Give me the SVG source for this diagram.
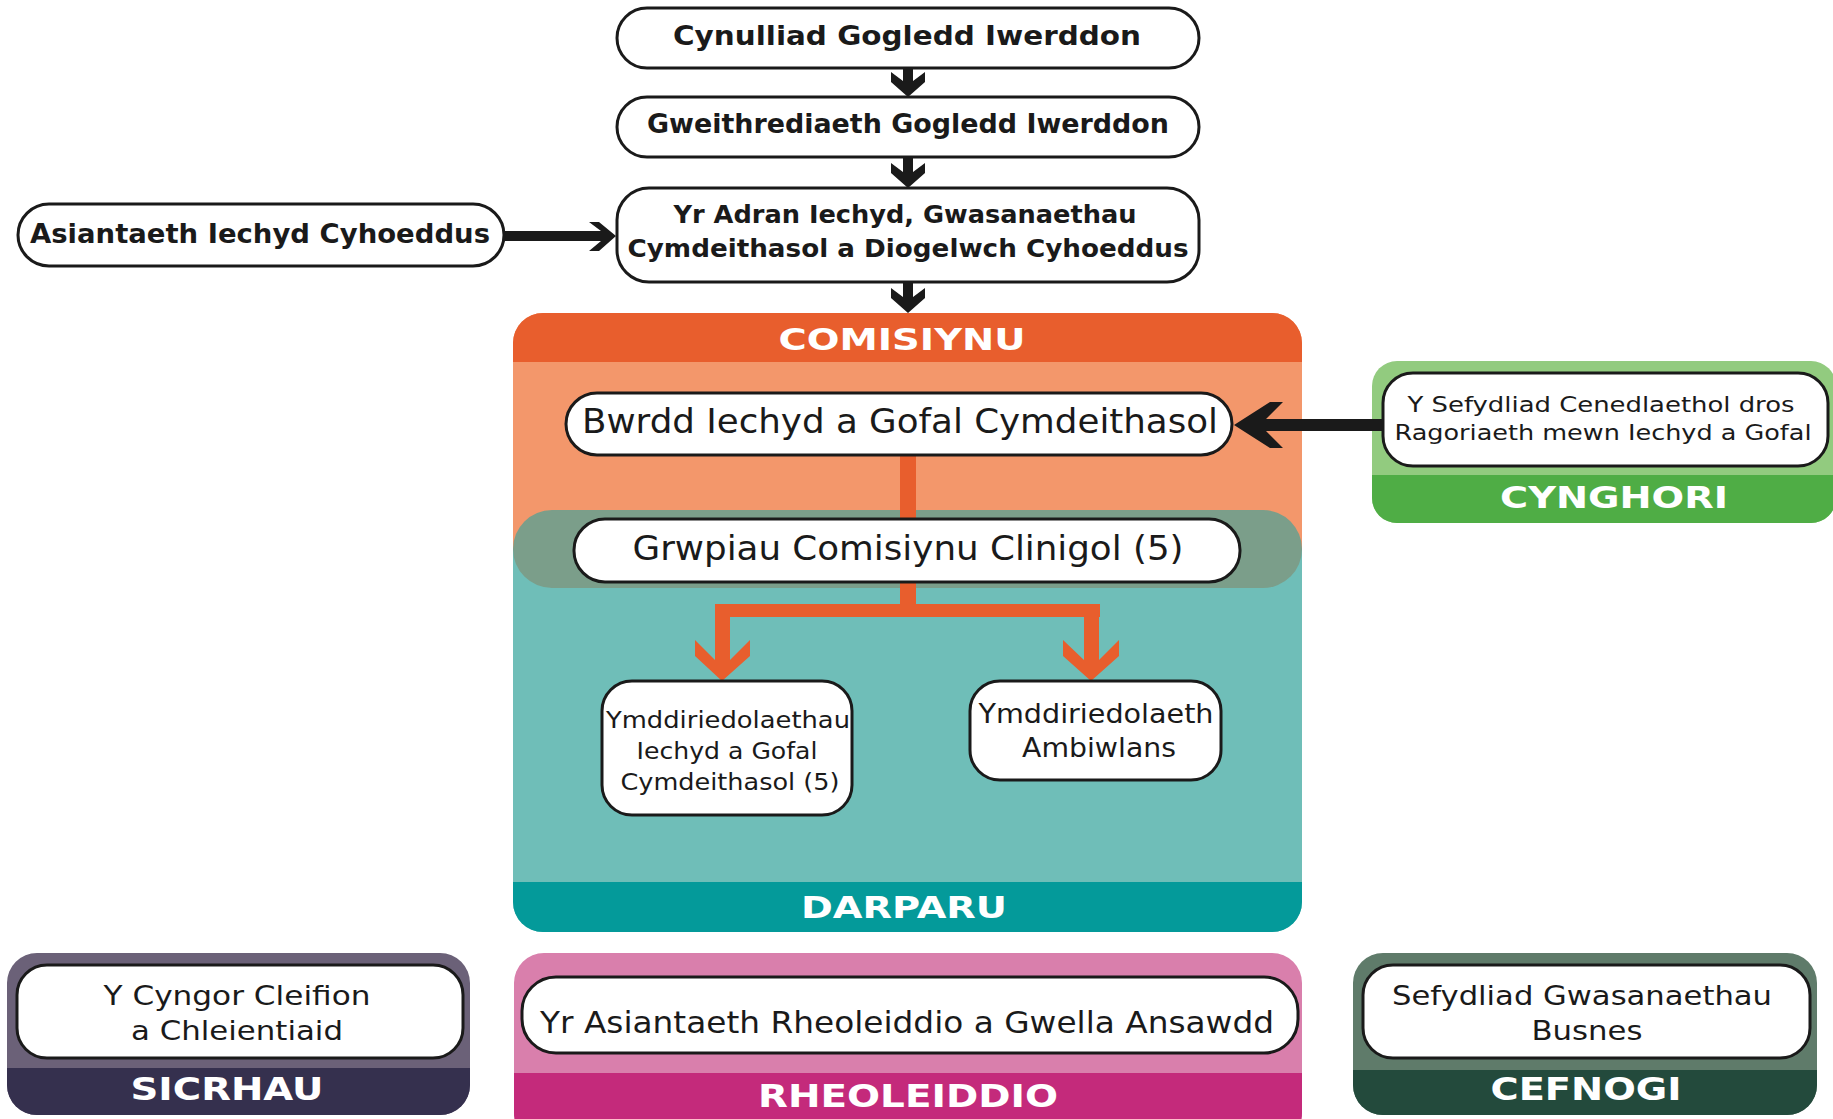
<svg xmlns="http://www.w3.org/2000/svg" width="1833" height="1119" viewBox="0 0 1833 1119">
<defs>
<style>
.box{fill:#fff;stroke:#1a1a1a;stroke-width:3}
.b{font-family:"DejaVu Sans","Liberation Sans",sans-serif;font-weight:700;fill:#1a1a1a;text-anchor:middle}
.r{font-family:"DejaVu Sans","Liberation Sans",sans-serif;font-weight:400;fill:#1a1a1a;text-anchor:middle}
.h{font-family:"DejaVu Sans","Liberation Sans",sans-serif;font-weight:700;fill:#fff;text-anchor:middle}
.blk{fill:#1a1a1a}
.org{fill:#e85e2d}
</style>
<clipPath id="cpMain"><rect x="513" y="313" width="789" height="619" rx="30"/></clipPath>
<clipPath id="cpGreen"><rect x="1372" y="361" width="464" height="162" rx="25"/></clipPath>
<clipPath id="cpSic"><rect x="7" y="953" width="463" height="162" rx="30"/></clipPath>
<clipPath id="cpRhe"><rect x="514" y="953" width="788" height="190" rx="30"/></clipPath>
<clipPath id="cpCef"><rect x="1353" y="953" width="464" height="162" rx="30"/></clipPath>
</defs>
<rect x="0" y="0" width="1833" height="1119" fill="#fff"/>

<g id="panel-comisiynu">
<g clip-path="url(#cpMain)">
<rect x="513" y="313" width="789" height="240" fill="#f3976b"/>
<rect x="513" y="549" width="789" height="383" fill="#6fbeb8"/>
<rect x="513" y="313" width="789" height="49" fill="#e85e2d"/>
<rect x="513" y="882" width="789" height="50" fill="#049a9a"/>
<rect x="513" y="510" width="789" height="78" rx="39" fill="#7b9e8a"/>
</g>
<text class="h" x="902" y="350" font-size="31" textLength="247" lengthAdjust="spacingAndGlyphs">COMISIYNU</text>
<text class="h" x="904" y="918" font-size="31" textLength="206" lengthAdjust="spacingAndGlyphs">DARPARU</text>
</g>

<g id="panel-cynghori">
<g clip-path="url(#cpGreen)">
<rect x="1372" y="361" width="464" height="162" fill="#92cb7f"/>
<rect x="1372" y="475" width="464" height="48" fill="#4fad45"/>
</g>
<text class="h" x="1614" y="508" font-size="31" textLength="228" lengthAdjust="spacingAndGlyphs">CYNGHORI</text>
</g>

<g id="panel-sicrhau">
<g clip-path="url(#cpSic)">
<rect x="7" y="953" width="463" height="162" fill="#6b6178"/>
<rect x="7" y="1068" width="463" height="47" fill="#35304e"/>
</g>
<text class="h" x="227" y="1100" font-size="32" textLength="193" lengthAdjust="spacingAndGlyphs">SICRHAU</text>
</g>

<g id="panel-rheoleiddio">
<g clip-path="url(#cpRhe)">
<rect x="514" y="953" width="788" height="190" fill="#d97fac"/>
<rect x="514" y="1073" width="788" height="70" fill="#c42a7b"/>
</g>
<text class="h" x="908" y="1107" font-size="32" textLength="300" lengthAdjust="spacingAndGlyphs">RHEOLEIDDIO</text>
</g>

<g id="panel-cefnogi">
<g clip-path="url(#cpCef)">
<rect x="1353" y="953" width="464" height="162" fill="#5f7b6a"/>
<rect x="1353" y="1070" width="464" height="45" fill="#234a3c"/>
</g>
<text class="h" x="1586" y="1100" font-size="32" textLength="191" lengthAdjust="spacingAndGlyphs">CEFNOGI</text>
</g>

<g id="connectors">
<path class="blk" d="M903,68 H913 V81 L925,72 V82 L908,97 L891,82 V72 L903,81 Z"/>
<path class="blk" d="M903,157 H913 V172 L925,163 V173 L908,188 L891,173 V163 L903,172 Z"/>
<path class="blk" d="M903,282 H913 V297 L925,288 V298 L908,313 L891,298 V288 L903,297 Z"/>
<path class="blk" d="M504,231 H601 L589,222 H599 L616,236 L599,251 H589 L601,241 H504 Z"/>
<path class="blk" d="M1383,419 H1266 L1283,402 H1270 L1234,425 L1270,448 H1283 L1266,431 H1383 Z"/>
<rect class="org" x="900" y="454" width="16" height="66"/>
<rect class="org" x="900" y="582" width="16" height="30"/>
<rect class="org" x="715" y="604" width="385" height="13"/>
<path class="org" d="M715,604 H730 V660 L750,640 V656 L722,681 L695,656 V640 L715,660 Z"/>
<path class="org" d="M1084,604 H1099 V660 L1119,640 V656 L1091,681 L1063,656 V640 L1084,660 Z"/>
</g>

<g id="node-cynulliad">
<rect class="box" x="617" y="8" width="582" height="60" rx="30"/>
<text class="b" x="907" y="45" font-size="26" textLength="468" lengthAdjust="spacingAndGlyphs">Cynulliad Gogledd Iwerddon</text>
</g>

<g id="node-gweithrediaeth">
<rect class="box" x="617" y="97" width="582" height="60" rx="30"/>
<text class="b" x="908" y="133" font-size="26" textLength="522" lengthAdjust="spacingAndGlyphs">Gweithrediaeth Gogledd Iwerddon</text>
</g>

<g id="node-adran">
<rect class="box" x="617" y="188" width="582" height="94" rx="32"/>
<text class="b" x="905" y="223" font-size="24" textLength="463" lengthAdjust="spacingAndGlyphs">Yr Adran Iechyd, Gwasanaethau</text>
<text class="b" x="908" y="257" font-size="24" textLength="561" lengthAdjust="spacingAndGlyphs">Cymdeithasol a Diogelwch Cyhoeddus</text>
</g>

<g id="node-asiantaeth">
<rect class="box" x="18" y="204" width="486" height="62" rx="31"/>
<text class="b" x="260" y="243" font-size="26" textLength="460" lengthAdjust="spacingAndGlyphs">Asiantaeth Iechyd Cyhoeddus</text>
</g>

<g id="node-bwrdd">
<rect class="box" x="566" y="393" width="666" height="62" rx="31"/>
<text class="r" x="900" y="433" font-size="34" textLength="636" lengthAdjust="spacingAndGlyphs">Bwrdd Iechyd a Gofal Cymdeithasol</text>
</g>

<g id="node-grwpiau">
<rect class="box" x="574" y="519" width="666" height="63" rx="31"/>
<text class="r" x="908" y="560" font-size="34" textLength="551" lengthAdjust="spacingAndGlyphs">Grwpiau Comisiynu Clinigol (5)</text>
</g>

<g id="node-ymddiriedolaethau">
<rect class="box" x="602" y="681" width="250" height="134" rx="30"/>
<text class="r" x="728" y="728" font-size="23" textLength="244" lengthAdjust="spacingAndGlyphs">Ymddiriedolaethau</text>
<text class="r" x="727" y="759" font-size="23" textLength="181" lengthAdjust="spacingAndGlyphs">Iechyd a Gofal</text>
<text class="r" x="730" y="790" font-size="23" textLength="219" lengthAdjust="spacingAndGlyphs">Cymdeithasol (5)</text>
</g>

<g id="node-ambiwlans">
<rect class="box" x="970" y="681" width="251" height="99" rx="30"/>
<text class="r" x="1096" y="723" font-size="26" textLength="235" lengthAdjust="spacingAndGlyphs">Ymddiriedolaeth</text>
<text class="r" x="1099" y="757" font-size="26" textLength="154" lengthAdjust="spacingAndGlyphs">Ambiwlans</text>
</g>

<g id="node-sefydliad-cenedlaethol">
<rect class="box" x="1383" y="373" width="445" height="93" rx="30"/>
<text class="r" x="1601" y="412" font-size="22" textLength="387" lengthAdjust="spacingAndGlyphs">Y Sefydliad Cenedlaethol dros</text>
<text class="r" x="1603" y="440" font-size="22" textLength="417" lengthAdjust="spacingAndGlyphs">Ragoriaeth mewn Iechyd a Gofal</text>
</g>

<g id="node-cyngor">
<rect class="box" x="17" y="965" width="446" height="93" rx="30"/>
<text class="r" x="237" y="1005" font-size="27" textLength="267" lengthAdjust="spacingAndGlyphs">Y Cyngor Cleifion</text>
<text class="r" x="237" y="1040" font-size="27" textLength="212" lengthAdjust="spacingAndGlyphs">a Chleientiaid</text>
</g>

<g id="node-rqia">
<rect class="box" x="522" y="977" width="776" height="76" rx="34"/>
<text class="r" x="907" y="1033" font-size="31" textLength="734" lengthAdjust="spacingAndGlyphs">Yr Asiantaeth Rheoleiddio a Gwella Ansawdd</text>
</g>

<g id="node-bso">
<rect class="box" x="1363" y="965" width="447" height="93" rx="30"/>
<text class="r" x="1582" y="1005" font-size="27" textLength="380" lengthAdjust="spacingAndGlyphs">Sefydliad Gwasanaethau</text>
<text class="r" x="1587" y="1040" font-size="27" textLength="111" lengthAdjust="spacingAndGlyphs">Busnes</text>
</g>
</svg>
